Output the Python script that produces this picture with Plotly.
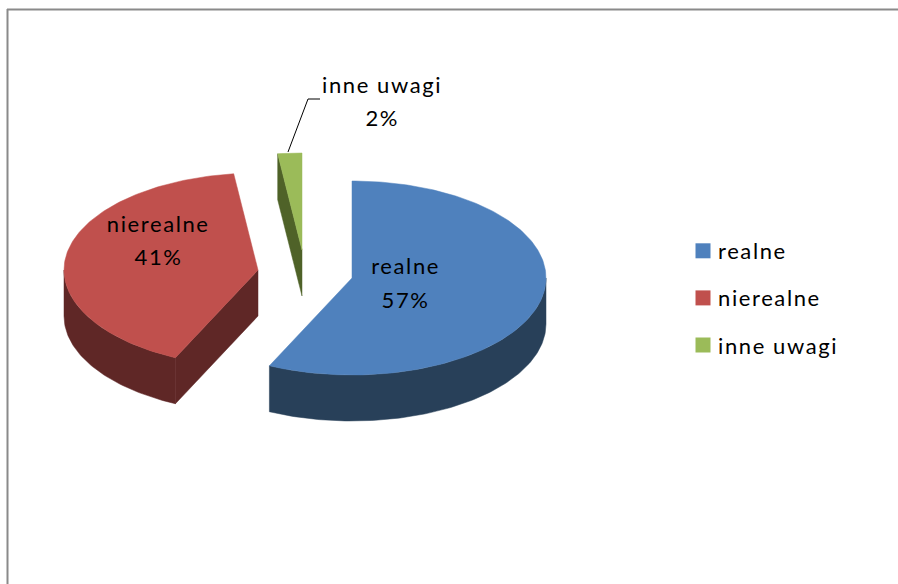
import math
import plotly.graph_objects as go

categories = ["realne", "nierealne", "inne uwagi"]
values = [57, 41, 2]
top_colors = ["#4F81BD", "#C0504D", "#9BBB59"]
side_colors = ["#284059", "#5F2726", "#4F6228"]

W, H = 898, 584
RX, RY, DEPTH = 194, 97, 46
centers = [(352, 278), (258, 270), (302, 250)]
label_pos = [(405, 265.5, 299.5), (158, 223.5, 256.5), (382, 84, 117)]
FONT = "Lato"
FS = 22


def pt(c, deg, dy=0):
    a = math.radians(deg)
    return c[0] + RX * math.sin(a), c[1] - RY * math.cos(a) + dy


def arc(c, a0, a1, dy=0):
    n = max(2, int(abs(a1 - a0)) + 1)
    return [pt(c, a0 + (a1 - a0) * i / (n - 1), dy) for i in range(n)]


def poly(points, color, line=None):
    xs = [p[0] for p in points] + [points[0][0]]
    ys = [p[1] for p in points] + [points[0][1]]
    return go.Scatter(x=xs, y=ys, mode="lines", fill="toself", fillcolor=color,
                      line=dict(color=line or color, width=0.5), hoverinfo="skip", showlegend=False)


fig = go.Figure()

# legend entries
for name, col in zip(categories, top_colors):
    fig.add_trace(go.Scatter(x=[None], y=[None], mode="markers", name=name, legendgroup=name,
                             marker=dict(symbol="square", size=15, color=col)))

# slices
start = 0
spans = []
for v in values:
    spans.append((start, start + v * 3.6))
    start += v * 3.6

for i, (a0, a1) in enumerate(spans):
    c = centers[i]
    side = side_colors[i]
    apex_low = (c[0], c[1] + DEPTH)
    # cut faces
    if a0 > 180:
        fig.add_trace(poly([c, pt(c, a0), pt(c, a0, DEPTH), apex_low], side))
    if a1 < 180:
        fig.add_trace(poly([c, pt(c, a1), pt(c, a1, DEPTH), apex_low], side))
    # outer rim: only the front half of the ellipse shows
    f0, f1 = max(a0, 90), min(a1, 270)
    if f1 > f0:
        fig.add_trace(poly(arc(c, f0, f1) + arc(c, f1, f0, DEPTH), side))
    # top face
    fig.add_trace(poly([c] + arc(c, a0, a1), top_colors[i]))

# leader line of the smallest slice
fig.add_trace(go.Scatter(x=[288, 308, 320], y=[152, 99, 99], mode="lines",
                         line=dict(color="#000000", width=1), hoverinfo="skip", showlegend=False))

annotations = []
for name, v, (x, y1, y2) in zip(categories, values, label_pos):
    for text, y in ((name, y1), (f"{v}%", y2)):
        annotations.append(dict(x=x, y=y, text=text, showarrow=False, xanchor="center", yanchor="middle",
                                font=dict(family=FONT, size=FS, color="#000000")))

fig.update_layout(
    width=W, height=H, margin=dict(l=0, r=0, t=0, b=0),
    paper_bgcolor="white", plot_bgcolor="white",
    xaxis=dict(range=[0, W], visible=False, fixedrange=True),
    yaxis=dict(range=[H, 0], visible=False, fixedrange=True),
    annotations=annotations,
    shapes=[dict(type="line", x0=7.5, x1=7.5, y0=9, y1=H, line=dict(color="#8a8a8a", width=2)),
            dict(type="line", x0=7, x1=W, y0=9.5, y1=9.5, line=dict(color="#8a8a8a", width=2))],
    legend=dict(x=683 / W, y=1 - 230 / H, xanchor="left", yanchor="top", tracegroupgap=15.5,
                entrywidth=170, entrywidthmode="pixels",
                font=dict(family=FONT, size=FS, color="#000000"), bgcolor="rgba(0,0,0,0)"),
)
post = """
document.body.style.margin = '0';
document.body.style.overflow = 'hidden';
document.querySelectorAll('.annotation-text, .legendtext').forEach(function (t) {
  t.style.letterSpacing = '1.6px';
});
document.querySelectorAll('.legendtext').forEach(function (t) {
  t.setAttribute('x', '35');
});
document.querySelectorAll('.legend, .legend .scrollbox').forEach(function (g) {
  g.removeAttribute('clip-path');
  g.style.clipPath = 'none';
});
"""
fig.write_html("out.html", config={"displayModeBar": False}, post_script=post)
